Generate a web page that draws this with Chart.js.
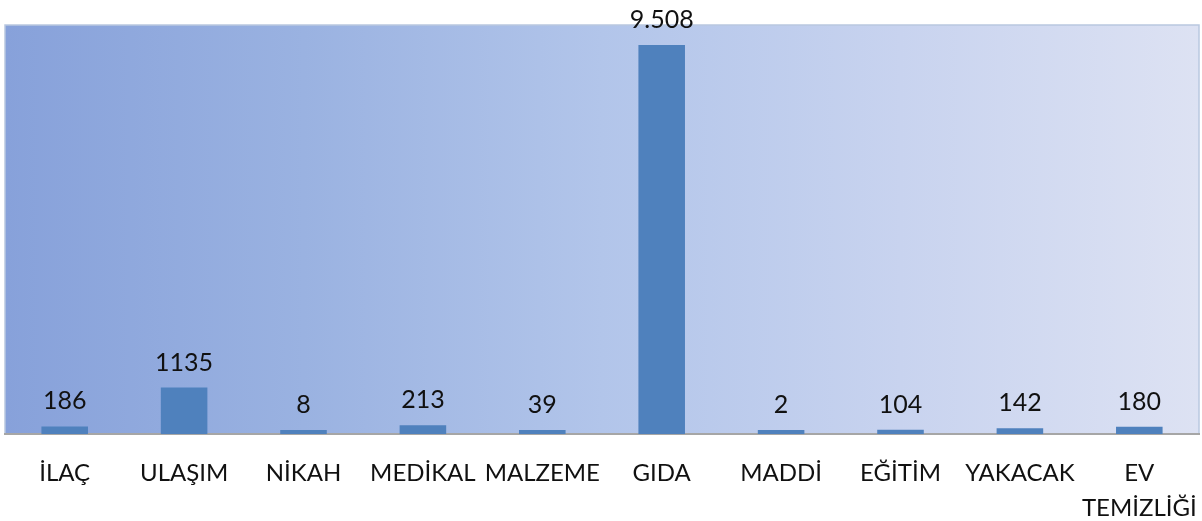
<!DOCTYPE html>
<html><head><meta charset="utf-8">
<script src="https://cdn.jsdelivr.net/npm/chart.js@4/dist/chart.umd.min.js"></script>
<style>html,body{margin:0;padding:0;background:#fff;}#wrap{width:1202px;height:521px;}</style>
</head><body><div id="wrap"><canvas id="c" width="1202" height="521"></canvas></div>
<script>
const categoryLabels = ["İLAÇ","ULAŞIM","NİKAH","MEDİKAL","MALZEME","GIDA","MADDİ","EĞİTİM","YAKACAK",["EV","TEMİZLİĞİ"]];
const values = [186,1135,8,213,39,9508,2,104,142,180];
const valueLabels = ["186","1135","8","213","39","9.508","2","104","142","180"];

const bgPlugin = {
  id:'bg',
  beforeDraw(chart){
    const {ctx, chartArea:a} = chart;
    const g = ctx.createLinearGradient(a.left,0,a.right,0);
    g.addColorStop(0,'#87a1da');
    g.addColorStop(0.25,'#9ab2e1');
    g.addColorStop(0.5,'#b2c5ea');
    g.addColorStop(0.75,'#c8d3ef');
    g.addColorStop(1,'#dde2f3');
    ctx.save();
    ctx.fillStyle = g;
    ctx.fillRect(a.left,a.top,a.right-a.left,a.bottom-a.top);
    ctx.strokeStyle = '#b9c8e0';
    ctx.lineWidth = 1.5;
    ctx.strokeRect(a.left,a.top,a.right-a.left,a.bottom-a.top);
    ctx.restore();
  }
};
const labelPlugin = {
  id:'vl',
  afterDatasetsDraw(chart){
    const {ctx} = chart;
    const meta = chart.getDatasetMeta(0);
    ctx.save();
    ctx.fillStyle = '#111';
    ctx.font = '25px Lato';
    ctx.textAlign = 'center';
    ctx.textBaseline = 'alphabetic';
    meta.data.forEach((el,i)=>{
      ctx.fillText(valueLabels[i], el.x, el.y - 17);
    });
    ctx.restore();
  }
};
new Chart(document.getElementById('c'),{
  type:'bar',
  data:{labels:categoryLabels,datasets:[{data:values,backgroundColor:'#4f81bd',barPercentage:0.39,categoryPercentage:1,minBarLength:4}]},
  options:{
    responsive:false,animation:false,
    layout:{padding:{left:5,right:3,top:25,bottom:0}},
    plugins:{legend:{display:false},tooltip:{enabled:false}},
    scales:{
      y:{display:false,min:0,max:10000},
      x:{grid:{display:false,drawTicks:false},border:{display:true,color:'#a6a6a6',width:2},
         afterFit(axis){ axis.height = 87; axis.paddingLeft = 0; axis.paddingRight = 0; },
         ticks:{color:'#111',font:{family:'Lato',size:24,lineHeight:1.45},padding:22,maxRotation:0,autoSkip:false}}
    }
  },
  plugins:[bgPlugin,labelPlugin]
});
</script></body></html>
